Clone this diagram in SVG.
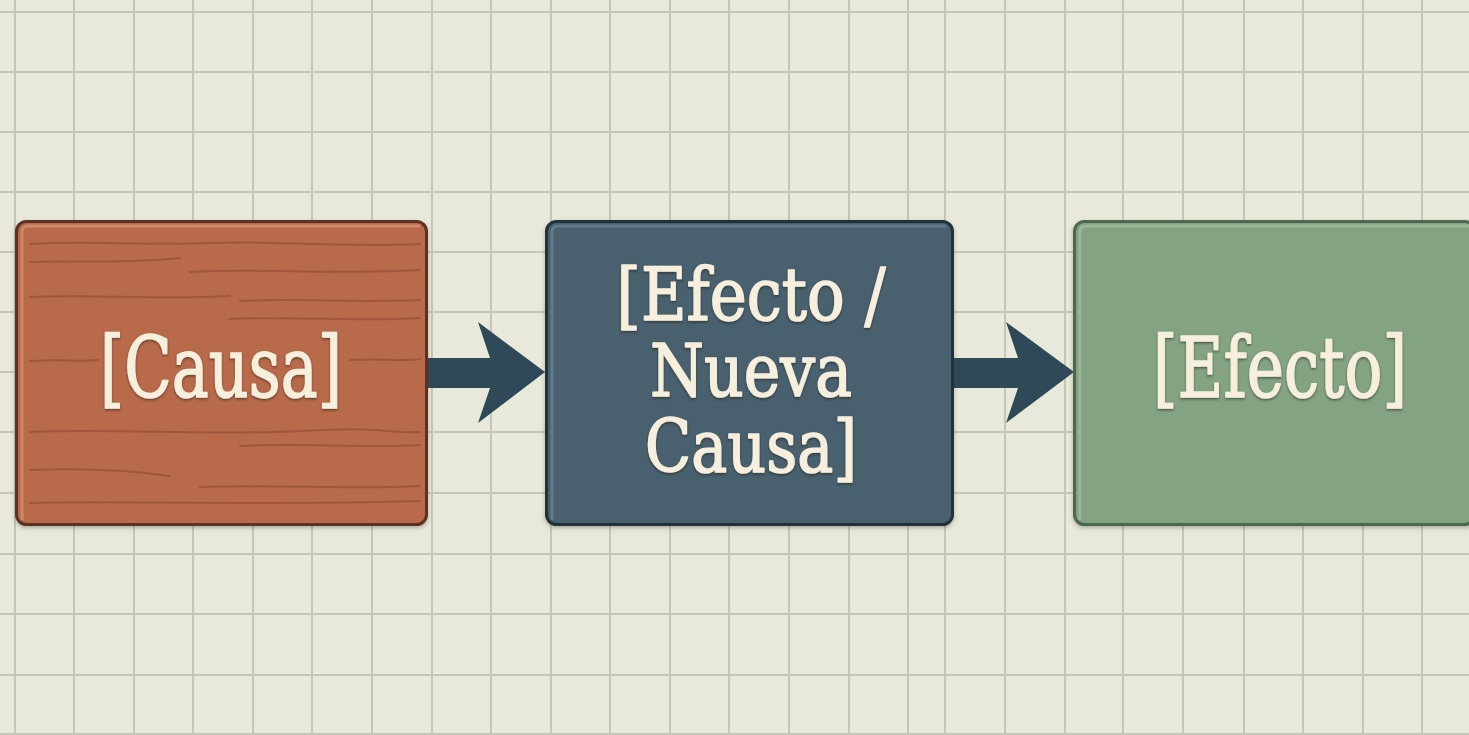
<svg xmlns="http://www.w3.org/2000/svg" width="1469" height="735" viewBox="0 0 1469 735">
  <style>
    .grid line { stroke: #c4c7b6; stroke-width: 2; }
    .lbl { font-family: "DejaVu Serif", "Liberation Serif", serif; fill: #f6efdd; stroke: #f6efdd; stroke-width: 1.6; stroke-linejoin: round; text-anchor: middle; filter: url(#tsh); }
    .grain { fill: none; stroke: #8e4a2f; stroke-width: 2; stroke-linecap: round; opacity: 0.6; }
    .arrow { fill: #2f4959; }
  </style>
  <defs>
    <filter id="tsh" x="-10%" y="-10%" width="120%" height="130%">
      <feDropShadow dx="0" dy="1.5" stdDeviation="1.2" flood-color="#1e1a16" flood-opacity="0.55"/>
    </filter>
    <filter id="bsh" x="-5%" y="-5%" width="110%" height="115%">
      <feDropShadow dx="0" dy="2" stdDeviation="2" flood-color="#3a3a30" flood-opacity="0.35"/>
    </filter>
  </defs>
  <rect width="1469" height="735" fill="#e8e9da"/>
  <g class="grid">
    <line x1="15" y1="0" x2="15" y2="735"/>
    <line x1="74" y1="0" x2="74" y2="735"/>
    <line x1="134" y1="0" x2="134" y2="735"/>
    <line x1="193" y1="0" x2="193" y2="735"/>
    <line x1="253" y1="0" x2="253" y2="735"/>
    <line x1="312" y1="0" x2="312" y2="735"/>
    <line x1="372" y1="0" x2="372" y2="735"/>
    <line x1="432" y1="0" x2="432" y2="735"/>
    <line x1="491" y1="0" x2="491" y2="735"/>
    <line x1="551" y1="0" x2="551" y2="735"/>
    <line x1="610" y1="0" x2="610" y2="735"/>
    <line x1="670" y1="0" x2="670" y2="735"/>
    <line x1="729" y1="0" x2="729" y2="735"/>
    <line x1="789" y1="0" x2="789" y2="735"/>
    <line x1="849" y1="0" x2="849" y2="735"/>
    <line x1="908" y1="0" x2="908" y2="735"/>
    <line x1="945" y1="0" x2="945" y2="735"/>
    <line x1="1005" y1="0" x2="1005" y2="735"/>
    <line x1="1065" y1="0" x2="1065" y2="735"/>
    <line x1="1123" y1="0" x2="1123" y2="735"/>
    <line x1="1183" y1="0" x2="1183" y2="735"/>
    <line x1="1244" y1="0" x2="1244" y2="735"/>
    <line x1="1303" y1="0" x2="1303" y2="735"/>
    <line x1="1363" y1="0" x2="1363" y2="735"/>
    <line x1="1422" y1="0" x2="1422" y2="735"/>
    <line x1="0" y1="12" x2="1469" y2="12"/>
    <line x1="0" y1="72" x2="1469" y2="72"/>
    <line x1="0" y1="132" x2="1469" y2="132"/>
    <line x1="0" y1="192" x2="1469" y2="192"/>
    <line x1="0" y1="252" x2="1469" y2="252"/>
    <line x1="0" y1="312" x2="1469" y2="312"/>
    <line x1="0" y1="372" x2="1469" y2="372"/>
    <line x1="0" y1="432" x2="1469" y2="432"/>
    <line x1="0" y1="493" x2="1469" y2="493"/>
    <line x1="0" y1="554" x2="1469" y2="554"/>
    <line x1="0" y1="614" x2="1469" y2="614"/>
    <line x1="0" y1="675" x2="1469" y2="675"/>
    <line x1="0" y1="734" x2="1469" y2="734"/>
  </g>

  <g id="connectors">
    <path class="arrow" d="M425,358 L490,358 L478,322 L545,372 L478,423 L490,388 L425,388 Z"/>
    <path class="arrow" d="M951,358 L1018,358 L1006,322 L1074,372 L1006,423 L1018,388 L951,388 Z"/>
  </g>

  <g id="node-causa">
    <rect x="16.5" y="221.5" width="410" height="303" rx="10" fill="#b86b4b" stroke="#5c3221" stroke-width="3" filter="url(#bsh)"/>
    <path d="M22,520 L22,232 Q22,226 28,226 L420,226" fill="none" stroke="#d99575" stroke-width="3" opacity="0.7"/>
    <path class="grain" d="M30,244 C90,240 150,246 210,243 S330,248 420,244"/>
    <path class="grain" d="M30,262 C80,260 130,264 180,258"/>
    <path class="grain" d="M190,272 C260,268 330,275 420,270"/>
    <path class="grain" d="M30,297 C90,294 160,300 230,296"/>
    <path class="grain" d="M240,301 C300,298 360,303 420,300"/>
    <path class="grain" d="M230,319 C300,316 360,322 420,318"/>
    <path class="grain" d="M30,361 C60,359 80,362 98,360"/>
    <path class="grain" d="M350,360 C380,358 400,362 420,359"/>
    <path class="grain" d="M30,432 C120,428 200,436 300,431 S380,434 420,432"/>
    <path class="grain" d="M240,446 C300,443 360,448 420,445"/>
    <path class="grain" d="M30,470 C80,468 130,470 170,476"/>
    <path class="grain" d="M200,487 C280,484 350,490 420,486"/>
    <path class="grain" d="M30,503 C120,500 240,506 420,501"/>
    <text class="lbl" x="221" y="397" font-size="85" textLength="242" lengthAdjust="spacingAndGlyphs">[Causa]</text>
  </g>

  <g id="node-efecto-nueva-causa">
    <rect x="546.5" y="221.5" width="406" height="303" rx="10" fill="#48606e" stroke="#22313a" stroke-width="3" filter="url(#bsh)"/>
    <path d="M552,520 L552,232 Q552,226 558,226 L946,226" fill="none" stroke="#6f8794" stroke-width="3" opacity="0.7"/>
    <text class="lbl" x="751" y="320" font-size="72" textLength="269" lengthAdjust="spacingAndGlyphs">[Efecto /</text>
    <text class="lbl" x="751" y="396" font-size="72" textLength="202" lengthAdjust="spacingAndGlyphs">Nueva</text>
    <text class="lbl" x="751" y="472" font-size="72" textLength="212" lengthAdjust="spacingAndGlyphs">Causa]</text>
  </g>

  <g id="node-efecto">
    <rect x="1074.5" y="221.5" width="400" height="303" rx="10" fill="#84a383" stroke="#4b694d" stroke-width="3" filter="url(#bsh)"/>
    <path d="M1080,520 L1080,232 Q1080,226 1086,226 L1469,226" fill="none" stroke="#a5c0a3" stroke-width="3" opacity="0.7"/>
    <text class="lbl" x="1280" y="397" font-size="85" textLength="254" lengthAdjust="spacingAndGlyphs">[Efecto]</text>
  </g>
</svg>
